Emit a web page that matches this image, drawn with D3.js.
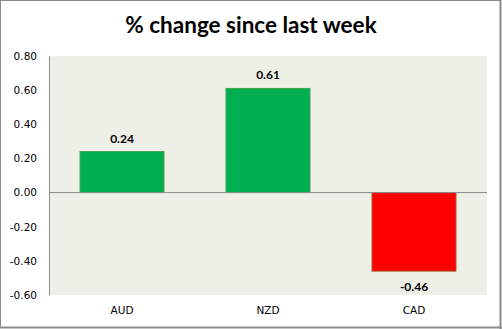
<!DOCTYPE html>
<html><head><meta charset="utf-8">
<script src="https://cdn.jsdelivr.net/npm/d3@7"></script>
<style>html,body{margin:0;padding:0;background:#fff;}svg{display:block;}</style>
</head><body>
<svg id="chart" width="502" height="329"></svg>
<script>
const title = "% change since last week";
const categories = ["AUD", "NZD", "CAD"];
const values = [0.24, 0.61, -0.46];
const yTicks = [0.8, 0.6, 0.4, 0.2, 0, -0.2, -0.4, -0.6];

const W = 502, H = 329;
const plot = {left: 49, right: 487, top: 56, bottom: 295};
const svg = d3.select("#chart");
const fmt = d => d3.format(".2f")(d).replace("\u2212", "-");

// outer border
svg.append("rect").attr("x", 0.5).attr("y", 0.5).attr("width", W - 2).attr("height", H - 2)
  .attr("fill", "#fff").attr("stroke", "#8c8c8c").attr("stroke-width", 1);
svg.append("line").attr("x1", W - 1.5).attr("x2", W - 1.5).attr("y1", 0).attr("y2", H).attr("stroke", "#8c8c8c").attr("stroke-width", 2);
svg.append("line").attr("x1", 0).attr("x2", W).attr("y1", H - 1.5).attr("y2", H - 1.5).attr("stroke", "#8c8c8c").attr("stroke-width", 2);

const x = d3.scaleBand().domain(categories).range([plot.left, plot.right]).paddingInner(0.425).paddingOuter(0.2125);
const y = d3.scaleLinear().domain([-0.6, 0.8]).range([plot.bottom, plot.top]);

// plot background
svg.append("rect").attr("x", plot.left).attr("y", plot.top)
  .attr("width", plot.right - plot.left).attr("height", plot.bottom - plot.top)
  .attr("fill", "#eef0e8");

// title
svg.append("text").attr("x", 251).attr("y", 33).attr("text-anchor", "middle")
  .attr("font-family", "Lato, 'Open Sans', sans-serif").attr("font-weight", "bold")
  .attr("font-size", 22.5).attr("fill", "#000").text(title);

// y axis
const yAxis = d3.axisLeft(y).tickValues(yTicks).tickFormat(fmt).tickSize(0).tickPadding(12);
const ya = svg.append("g").attr("transform", `translate(${plot.left},0)`).call(yAxis);
ya.select(".domain").attr("stroke", "#8c8c8c");
ya.selectAll("text").attr("font-family", "'DejaVu Sans', sans-serif").attr("font-size", 10.5).attr("fill", "#000");

// bars
svg.selectAll("rect.bar").data(values).enter().append("rect").attr("class", "bar")
  .attr("x", (d, i) => x(categories[i]))
  .attr("width", x.bandwidth())
  .attr("y", d => y(Math.max(0, d)))
  .attr("height", d => Math.abs(y(d) - y(0)))
  .attr("fill", d => d >= 0 ? "#00b050" : "#ff0000")
  .attr("stroke", d => d >= 0 ? "#3fa04a" : "#9c5a2c")
  .attr("stroke-width", 1);

// zero line
svg.append("line").attr("x1", plot.left).attr("x2", plot.right).attr("y1", y(0)).attr("y2", y(0))
  .attr("stroke", "#8c8c8c").attr("stroke-width", 1);

// data labels
svg.selectAll("text.lbl").data(values).enter().append("text").attr("class", "lbl")
  .attr("x", (d, i) => x(categories[i]) + x.bandwidth() / 2)
  .attr("y", d => d >= 0 ? y(d) - 9 : y(d) + 20)
  .attr("text-anchor", "middle")
  .attr("font-family", "Lato, 'Open Sans', sans-serif").attr("font-weight", "bold").attr("font-size", 12)
  .text(fmt);

// x axis category labels
const xAxis = d3.axisBottom(x).tickSize(0).tickPadding(12);
const xa = svg.append("g").attr("transform", `translate(0,${plot.bottom})`).call(xAxis);
xa.select(".domain").remove();
xa.selectAll("text").attr("font-family", "'DejaVu Sans', sans-serif").attr("font-size", 10.5).attr("fill", "#000");
</script>
</body></html>
